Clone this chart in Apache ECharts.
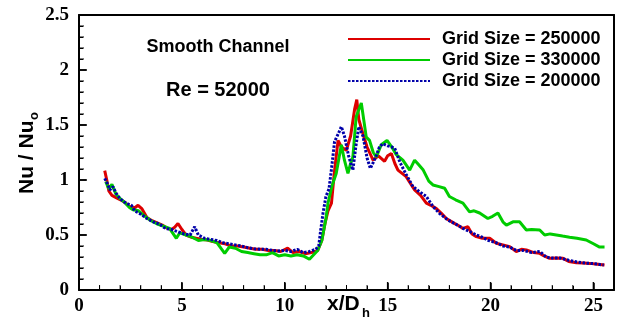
<!DOCTYPE html>
<html><head><meta charset="utf-8">
<script src="https://cdn.jsdelivr.net/npm/echarts@6/dist/echarts.min.js"></script>
<style>html,body{margin:0;padding:0;background:#fff}#c{width:619px;height:326px}</style>
</head><body><div id="c"></div>
<script>
// Grid Size = 250000 (red)
var redX = [1.25,1.35,1.45,1.6,1.8,2.0,2.2,2.45,2.7,2.87,3.05,3.3,3.55,3.8,4.05,4.3,4.5,4.65,4.81,5.0,5.2,5.45,5.7,6.0,6.25,6.5,6.8,7.1,7.4,7.7,8.0,8.3,8.6,8.9,9.2,9.5,9.8,10.14,10.4,10.7,11.0,11.3,11.6,11.8,11.95,12.1,12.27,12.4,12.59,12.75,12.99,13.2,13.4,13.5,13.6,13.8,14.0,14.29,14.55,14.85,15.0,15.18,15.35,15.5,15.9,16.1,16.31,16.6,16.88,17.1,17.37,17.6,17.85,18.2,18.5,18.66,18.9,19.1,19.31,19.6,19.96,20.28,20.6,20.93,21.25,21.5,21.74,22.1,22.39,22.6,22.87,23.2,23.52,23.8,24.17,24.5,24.82,25.2,25.54];
var redY = [1.085,1.00,0.90,0.86,0.84,0.82,0.80,0.76,0.745,0.77,0.74,0.66,0.63,0.61,0.59,0.56,0.55,0.57,0.605,0.55,0.50,0.48,0.47,0.46,0.455,0.44,0.43,0.42,0.40,0.40,0.39,0.38,0.37,0.37,0.36,0.36,0.35,0.38,0.34,0.35,0.33,0.34,0.36,0.45,0.60,0.72,0.79,1.05,1.36,1.30,1.27,1.40,1.65,1.73,1.55,1.42,1.30,1.18,1.22,1.17,1.22,1.24,1.15,1.09,1.03,0.97,0.91,0.86,0.79,0.77,0.74,0.70,0.65,0.61,0.58,0.56,0.575,0.51,0.485,0.47,0.47,0.425,0.41,0.394,0.35,0.37,0.364,0.34,0.333,0.31,0.288,0.29,0.288,0.26,0.248,0.245,0.242,0.235,0.227];
// Grid Size = 330000 (green)
var greenX = [1.3,1.45,1.6,1.8,2.0,2.2,2.45,2.62,2.9,3.2,3.5,3.8,4.1,4.4,4.73,4.9,5.2,5.5,5.8,6.1,6.4,6.7,7.08,7.3,7.6,7.9,8.2,8.5,8.8,9.1,9.4,9.7,10.0,10.3,10.6,10.9,11.2,11.45,11.6,11.8,12.0,12.1,12.3,12.5,12.75,12.9,13.07,13.2,13.31,13.47,13.72,13.96,14.12,14.3,14.45,14.69,14.97,15.2,15.42,15.74,16.07,16.31,16.5,16.73,17.0,17.2,17.5,17.77,18.0,18.3,18.66,18.98,19.2,19.47,19.87,20.1,20.36,20.6,20.77,21.09,21.41,21.74,22.0,22.39,22.63,22.9,23.2,23.5,23.84,24.2,24.65,25.0,25.3,25.54];
var greenY = [0.985,0.92,0.96,0.87,0.83,0.80,0.75,0.73,0.72,0.67,0.63,0.60,0.58,0.56,0.47,0.52,0.50,0.48,0.45,0.46,0.45,0.43,0.333,0.39,0.38,0.35,0.34,0.33,0.32,0.32,0.34,0.31,0.32,0.31,0.32,0.31,0.28,0.33,0.36,0.45,0.65,0.79,0.95,1.06,1.32,1.18,1.06,1.15,1.21,1.575,1.70,1.39,1.36,1.25,1.21,1.32,1.36,1.30,1.23,1.18,1.09,1.18,1.14,1.09,0.99,0.955,0.94,0.925,0.85,0.82,0.79,0.71,0.72,0.70,0.65,0.67,0.70,0.62,0.59,0.62,0.62,0.545,0.55,0.545,0.50,0.51,0.50,0.49,0.48,0.47,0.455,0.42,0.39,0.39];
// Grid Size = 200000 (blue dotted)
var blueX = [1.25,1.4,1.5,1.65,1.8,2.0,2.2,2.4,2.55,2.7,3.0,3.3,3.6,3.9,4.2,4.5,4.8,5.1,5.4,5.62,5.8,6.1,6.4,6.7,7.0,7.3,7.6,7.9,8.2,8.5,8.8,9.1,9.4,9.7,10.0,10.3,10.6,10.9,11.2,11.5,11.65,11.75,11.86,12.0,12.15,12.27,12.42,12.6,12.75,12.9,13.1,13.31,13.45,13.6,13.8,14.0,14.16,14.4,14.6,14.77,15.0,15.2,15.34,15.6,15.9,16.23,16.5,16.88,17.2,17.5,17.93,18.3,18.66,19.0,19.31,19.6,19.9,20.28,20.6,20.93,21.25,21.6,22.0,22.4,22.7,23.0,23.4,23.8,24.2,24.6,25.0,25.5];
var blueY = [1.015,0.96,0.91,0.94,0.88,0.83,0.80,0.78,0.77,0.72,0.69,0.65,0.62,0.60,0.56,0.55,0.53,0.51,0.50,0.575,0.50,0.47,0.46,0.45,0.43,0.42,0.41,0.40,0.385,0.375,0.37,0.37,0.36,0.355,0.36,0.35,0.37,0.34,0.35,0.37,0.40,0.55,0.70,0.85,0.92,1.10,1.35,1.42,1.485,1.40,1.22,1.09,1.30,1.485,1.40,1.20,1.105,1.20,1.30,1.33,1.31,1.30,1.29,1.16,1.05,0.94,0.90,0.85,0.76,0.70,0.636,0.60,0.56,0.53,0.50,0.48,0.45,0.43,0.40,0.39,0.36,0.36,0.34,0.35,0.30,0.29,0.29,0.27,0.255,0.245,0.24,0.227];

var seriesNames = ['Grid Size = 250000','Grid Size = 330000','Grid Size = 200000'];
// tick positions (major every 5 / 0.5, minor every 1 / 0.1)
var xTickVals = [1,2,3,4,5,6,7,8,9,10,11,12,13,14,15,16,17,18,19,20,21,22,23,24,25];
var yTickVals = [0.1,0.2,0.3,0.4,0.5,0.6,0.7,0.8,0.9,1.0,1.1,1.2,1.3,1.4,1.5,1.6,1.7,1.8,1.9,2.0,2.1,2.2,2.3,2.4];

function zip(a,b){return a.map(function(v,i){return [v,b[i]];});}
function isMult(v,step){return Math.abs(v/step-Math.round(v/step))<1e-6;}
function tickRender(isX){
  return function(params, api){
    var v = api.value(isX?0:1);
    var major = isX ? isMult(v,5) : isMult(v,0.5);
    var len = major ? 7 : 4;
    var p = api.coord([api.value(0), api.value(1)]);
    var shape = isX ? {x1:p[0],y1:p[1]-1,x2:p[0],y2:p[1]-1-len} : {x1:p[0]+1,y1:p[1],x2:p[0]+1+len,y2:p[1]};
    return {type:'line',shape:shape,style:{stroke:'#000',lineWidth:major?1.5:1}};
  };
}

var chart = echarts.init(document.getElementById('c'), null, {renderer:'canvas'});
var sans = '"Liberation Sans", Arial, sans-serif';
var serif = '"Liberation Serif", "Times New Roman", serif';
var frameAxis = {show:true,axisLine:{show:true,onZero:false,lineStyle:{color:'#000',width:2}},axisTick:{show:false},minorTick:{show:false},axisLabel:{show:false},splitLine:{show:false}};
chart.setOption({
  animation:false,
  backgroundColor:'#fff',
  grid:{left:79,right:5,top:15,bottom:36},
  legend:{
    orient:'vertical', left:347, top:29, padding:0, itemWidth:82, itemHeight:10, itemGap:1,
    data:seriesNames,
    itemStyle:{opacity:0},
    textStyle:{fontFamily:sans,fontWeight:'bold',fontSize:18,color:'#000',lineHeight:20,padding:[0,0,0,7]}
  },
  xAxis:[{
    type:'value',min:0,max:26,interval:5,position:'bottom',
    axisLine:{show:true,onZero:false,lineStyle:{color:'#000',width:2}},
    axisTick:{show:true,inside:true,length:7,lineStyle:{color:'#000',width:1.5}},
    minorTick:{show:true,splitNumber:5,length:4,lineStyle:{color:'#000',width:1}},
    splitLine:{show:false},
    axisLabel:{margin:7,showMaxLabel:false,fontFamily:serif,fontWeight:'bold',fontSize:19,color:'#000'}
  }, Object.assign({type:'value',min:0,max:26,position:'top'}, frameAxis)],
  yAxis:[{
    type:'value',min:0,max:2.5,interval:0.5,position:'left',
    axisLine:{show:true,onZero:false,lineStyle:{color:'#000',width:2}},
    axisTick:{show:true,inside:true,length:7,lineStyle:{color:'#000',width:1.5}},
    minorTick:{show:true,splitNumber:5,length:4,lineStyle:{color:'#000',width:1}},
    splitLine:{show:false},
    axisLabel:{margin:10,fontFamily:serif,fontWeight:'bold',fontSize:19,color:'#000'}
  }, Object.assign({type:'value',min:0,max:2.5,position:'right'}, frameAxis)],
  series:[
    {name:seriesNames[0],type:'line',data:zip(redX,redY),symbol:'none',lineStyle:{color:'#dd0000',width:3},itemStyle:{color:'#dd0000'},z:2},
    {name:seriesNames[1],type:'line',data:zip(greenX,greenY),symbol:'none',lineStyle:{color:'#00cc00',width:3},itemStyle:{color:'#00cc00'},z:3},
    {name:seriesNames[2],type:'line',data:zip(blueX,blueY),symbol:'none',lineStyle:{color:'#0000aa',width:3,type:[2.5,1.5]},itemStyle:{color:'#0000aa'},z:4},
    {name:'xTicks',type:'custom',data:xTickVals.map(function(v){return [v,0];}),encode:{x:0,y:1},renderItem:tickRender(true),silent:true,clip:false,z:10,tooltip:{show:false}},
    {name:'yTicks',type:'custom',data:yTickVals.map(function(v){return [0,v];}),encode:{x:0,y:1},renderItem:tickRender(false),silent:true,clip:false,z:10,tooltip:{show:false}}
  ],
  graphic:[
    {type:'text',x:218,y:47,style:{text:'Smooth Channel',font:'bold 18px '+sans,fill:'#000',textAlign:'center',textVerticalAlign:'middle'}},
    {type:'text',x:218,y:90,style:{text:'Re = 52000',font:'bold 20px '+sans,fill:'#000',textAlign:'center',textVerticalAlign:'middle'}},
    {type:'group',x:27,y:153,rotation:Math.PI/2,children:[
      {type:'text',x:-41,y:0,style:{text:'Nu / Nu',font:'bold 21px '+sans,fill:'#000',textAlign:'left',textVerticalAlign:'middle'}},
      {type:'text',x:33,y:7,style:{text:'o',font:'bold 13px '+sans,fill:'#000',textAlign:'left',textVerticalAlign:'middle'}}
    ]},
    {type:'text',x:327,y:304,style:{text:'x/D',font:'bold 21px '+sans,fill:'#000',textAlign:'left',textVerticalAlign:'middle'}},
    {type:'text',x:362,y:313,style:{text:'h',font:'bold 13px '+sans,fill:'#000',textAlign:'left',textVerticalAlign:'middle'}}
  ]
});
</script></body></html>
